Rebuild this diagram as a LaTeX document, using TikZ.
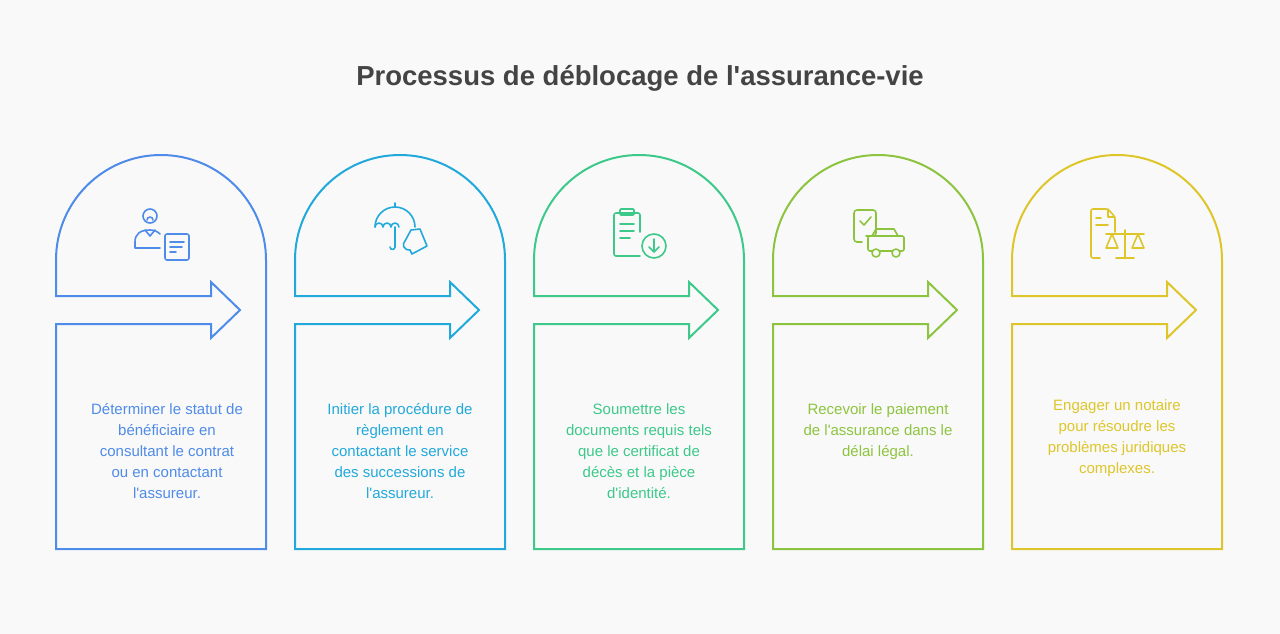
\documentclass[tikz,border=0pt]{standalone}
\usepackage{fontspec}
\setmainfont{Liberation Sans}
\definecolor{cA}{HTML}{4F8BE8}
\definecolor{cB}{HTML}{22A9DB}
\definecolor{cC}{HTML}{3CC98A}
\definecolor{cD}{HTML}{8DC43F}
\definecolor{cE}{HTML}{DEC62A}
\definecolor{bg}{HTML}{F9F9F9}
\definecolor{tt}{HTML}{444444}
\newcommand{\aq}{\textquotesingle}
\newcommand{\stepshape}[2]{%
 \draw[#2,line width=2pt,line join=miter] (#1+0,549) -- (#1+0,324) -- (#1+155,324) -- (#1+155,338) -- (#1+184,310) -- (#1+155,282) -- (#1+155,296) -- (#1+0,296) -- (#1+0,260) arc[start angle=180,end angle=360,radius=105] -- (#1+210,549) -- cycle;}
\tikzset{lbl/.style={align=center,font=\fontsize{15}{21}\selectfont},
 ic/.style={line width=1.6pt,line cap=round,line join=round}}
\begin{document}
\begin{tikzpicture}[x=1pt,y=-1pt]
\fill[bg] (0,0) rectangle (1280,634);
\useasboundingbox (0,0) rectangle (1280,634);
\node[font=\fontsize{27.5}{32}\selectfont\bfseries,text=tt] (title) at (640,78) {Processus de déblocage de l\aq assurance-vie};
\stepshape{56}{cA}
\stepshape{295}{cB}
\stepshape{534}{cC}
\stepshape{773}{cD}
\stepshape{1012}{cE}
\node[lbl,text=cA,anchor=north] (t1) at (167,400) {Déterminer le statut de\\bénéficiaire en\\consultant le contrat\\ou en contactant\\l\aq assureur.};
\node[lbl,text=cB,anchor=north] (t2) at (400,400) {Initier la procédure de\\règlement en\\contactant le service\\des successions de\\l\aq assureur.};
\node[lbl,text=cC,anchor=north] (t3) at (639,400) {Soumettre les\\documents requis tels\\que le certificat de\\décès et la pièce\\d\aq identité.};
\node[lbl,text=cD,anchor=north] (t4) at (878,400) {Recevoir le paiement\\de l\aq assurance dans le\\délai légal.};
\node[lbl,text=cE,anchor=north] (t5) at (1117,396) {Engager un notaire\\pour résoudre les\\problèmes juridiques\\complexes.};
% icon 1
\begin{scope}[ic,cA]
\draw (150,216) circle (7);
\draw (147,220) arc[start angle=180,end angle=360,radius=3];
\draw (160,248) -- (135,248) -- (135,242) .. controls (135,234) and (140,230) .. (150,230) .. controls (155,230) and (158,232) .. (160,234);
\draw (145,230) -- (150,236) -- (155,230);
\draw[rounded corners=2pt] (165,234) rectangle (189,260);
\draw (170,242) -- (184,242) (170,247) -- (182,247) (170,252) -- (176,252);
\end{scope}
% icon 2
\begin{scope}[ic,cB]
\draw (375,227) arc[start angle=180,end angle=360,radius=20] ;
\draw (375,227) arc[start angle=180,end angle=360,radius=4] arc[start angle=180,end angle=360,radius=4] arc[start angle=180,end angle=360,radius=4];
\draw (395,207) -- (395,203);
\draw (395,227) -- (395,247) arc[start angle=0,end angle=180,radius=2.5];
\draw (405,241) -- (411,230) -- (420,229) -- (427,246) -- (412,254) -- (410,250) .. controls (403,250) and (402,244) .. (405,241);
\end{scope}
% icon 3
\begin{scope}[ic,cC]
\draw[rounded corners=2pt] (640,232) -- (640,213) -- (614,213) -- (614,256) -- (640,256);
\draw[rounded corners=1pt] (620,209) rectangle (634,215);
\draw (620,224) -- (634,224) (620,231) -- (634,231) (620,238) -- (630,238);
\draw (654,246) circle (12);
\draw (654,239) -- (654,252) (649,247) -- (654,252) -- (659,247);
\end{scope}
% icon 4
\begin{scope}[ic,cD]
\draw[rounded corners=3pt] (866,236) -- (876,236) -- (876,210) -- (854,210) -- (854,242) -- (862,242);
\draw (860,221) -- (864,225) -- (871,217);
\draw (872,236) -- (876,229) -- (894,229) -- (898,236);
\draw[rounded corners=2pt] (868,236) rectangle (904,251);
\draw[fill=bg] (876,253) circle (4) (896,253) circle (4);
\end{scope}
% icon 5
\begin{scope}[ic,cE]
\draw[rounded corners=2pt] (1115,232) -- (1115,217) -- (1108,209) -- (1091,209) -- (1091,258) -- (1100,258);
\draw (1108,209) -- (1108,217) -- (1115,217);
\draw (1096,218) -- (1101,218) (1096,225) -- (1108,225);
\draw (1106,234) -- (1144,234) (1125,230) -- (1125,258) (1116,258) -- (1134,258);
\draw (1112,234) -- (1106,248) -- (1118,248) -- cycle;
\draw (1138,234) -- (1132,248) -- (1144,248) -- cycle;
\end{scope}
\end{tikzpicture}
\end{document}
